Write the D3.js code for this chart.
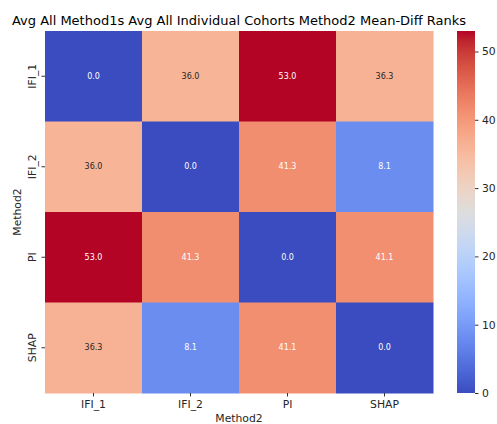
<!DOCTYPE html>
<html>
<head>
<meta charset="utf-8">
<script src="https://cdn.jsdelivr.net/npm/d3@7"></script>
<style>
  html, body { margin: 0; padding: 0; background: #fff; }
  svg { display: block; font-family: "DejaVu Sans", sans-serif; }
</style>
</head>
<body>
<svg id="chart" width="497" height="424"></svg>
<script>
// Row / column labels of the rank-difference matrix
const rowLabels = ["IFI_1", "IFI_2", "PI", "SHAP"];
const colLabels = ["IFI_1", "IFI_2", "PI", "SHAP"];

// Mean rank differences, one array per row (Method2 on both axes)
const rowIFI1 = [0.0, 36.0, 53.0, 36.3];
const rowIFI2 = [36.0, 0.0, 41.3, 8.1];
const rowPI = [53.0, 41.3, 0.0, 41.1];
const rowSHAP = [36.3, 8.1, 41.1, 0.0];
const matrix = [rowIFI1, rowIFI2, rowPI, rowSHAP];

const colorbarTicks = [0, 10, 20, 30, 40, 50];
const vmin = 0, vmax = 53.0;

// Diverging "coolwarm" palette (Moreland), sampled at 33 stops
const coolwarmStops = [
  [59,76,192],[68,90,204],[77,104,215],[87,117,225],[98,130,234],[108,142,241],
  [119,154,247],[130,165,251],[141,176,254],[152,185,255],[163,194,255],[174,201,253],
  [184,208,249],[194,213,244],[204,217,238],[213,219,230],[221,221,221],[229,216,209],
  [236,211,197],[241,204,185],[245,196,173],[247,187,160],[247,177,148],[247,166,135],
  [244,154,123],[241,141,111],[236,127,99],[229,112,88],[222,96,77],[213,80,66],
  [203,62,56],[192,40,47],[180,4,38]
];
const coolwarm = d3.piecewise(d3.interpolateRgb, coolwarmStops.map(c => d3.rgb(c[0], c[1], c[2])));
const color = d3.scaleSequential(coolwarm).domain([vmin, vmax]);

const svg = d3.select("#chart");

// Plot area
const plotL = 45, plotR = 433, plotT = 31, plotB = 393;
const x = d3.scaleBand().domain(colLabels).range([plotL, plotR]);
const y = d3.scaleBand().domain(rowLabels).range([plotT, plotB]);

const cells = [];
matrix.forEach((row, i) => row.forEach((v, j) => cells.push({ r: rowLabels[i], c: colLabels[j], v })));

// Relative luminance to choose annotation colour
function luminance(col) {
  const c = d3.rgb(col);
  const f = u => { u /= 255; return u <= 0.03928 ? u / 12.92 : Math.pow((u + 0.055) / 1.055, 2.4); };
  return 0.2126 * f(c.r) + 0.7152 * f(c.g) + 0.0722 * f(c.b);
}

svg.append("g").selectAll("rect").data(cells).join("rect")
  .attr("x", d => x(d.c))
  .attr("y", d => y(d.r))
  .attr("width", x.bandwidth() + 0.5)
  .attr("height", y.bandwidth() + 0.5)
  .attr("fill", d => color(d.v));

svg.append("g").selectAll("text").data(cells).join("text")
  .attr("x", d => x(d.c) + x.bandwidth() / 2)
  .attr("y", d => y(d.r) + y.bandwidth() / 2)
  .attr("text-anchor", "middle")
  .attr("dominant-baseline", "central")
  .attr("font-size", 8)
  .attr("fill", d => luminance(color(d.v)) > 0.408 ? "#262626" : "#ffffff")
  .text(d => d.v.toFixed(1));

// X axis
const xAxis = svg.append("g").attr("transform", `translate(0,${plotB})`)
  .call(d3.axisBottom(x).tickSize(3.5).tickPadding(3.5));
xAxis.select(".domain").remove();
xAxis.selectAll("line").attr("stroke", "#333");
xAxis.selectAll("text").attr("font-size", 10.8).attr("fill", "#262626").attr("font-family", "DejaVu Sans");

// Y axis with rotated labels
const yAxis = svg.append("g").attr("transform", `translate(${plotL},0)`)
  .call(d3.axisLeft(y).tickSize(3.5).tickPadding(3.5));
yAxis.select(".domain").remove();
yAxis.selectAll("line").attr("stroke", "#333");
yAxis.selectAll("text")
  .attr("font-size", 10.8).attr("fill", "#262626").attr("font-family", "DejaVu Sans")
  .attr("text-anchor", "middle")
  .attr("dy", null)
  .attr("x", null)
  .attr("transform", "translate(-9,0) rotate(-90)");

// Axis titles
svg.append("text").attr("x", (plotL + plotR) / 2).attr("y", 422)
  .attr("text-anchor", "middle").attr("font-size", 10.8).attr("fill", "#262626")
  .text("Method2");
svg.append("text")
  .attr("transform", `translate(21,${(plotT + plotB) / 2}) rotate(-90)`)
  .attr("text-anchor", "middle").attr("font-size", 10.8).attr("fill", "#262626")
  .text("Method2");

// Title
svg.append("text").attr("x", (plotL + plotR) / 2).attr("y", 25)
  .attr("text-anchor", "middle").attr("font-size", 13).attr("fill", "#000")
  .text("Avg All Method1s Avg All Individual Cohorts Method2 Mean-Diff Ranks");

// Colour bar
const cbLeft = 457, cbWidth = 18;
const cbScale = d3.scaleLinear().domain([vmin, vmax]).range([plotB, plotT]);
const defs = svg.append("defs");
const grad = defs.append("linearGradient").attr("id", "cbgrad")
  .attr("x1", 0).attr("y1", 1).attr("x2", 0).attr("y2", 0);
d3.range(0, 1.0001, 1 / 64).forEach(t => {
  grad.append("stop").attr("offset", t).attr("stop-color", coolwarm(t));
});
svg.append("rect").attr("x", cbLeft).attr("y", plotT)
  .attr("width", cbWidth).attr("height", plotB - plotT)
  .attr("fill", "url(#cbgrad)");

const cbAxis = svg.append("g").attr("transform", `translate(${cbLeft + cbWidth},0)`)
  .call(d3.axisRight(cbScale).tickValues(colorbarTicks).tickSize(3.5).tickPadding(3.5));
cbAxis.select(".domain").remove();
cbAxis.selectAll("line").attr("stroke", "#333");
cbAxis.selectAll("text").attr("font-size", 10.8).attr("fill", "#262626").attr("font-family", "DejaVu Sans");
</script>
</body>
</html>
